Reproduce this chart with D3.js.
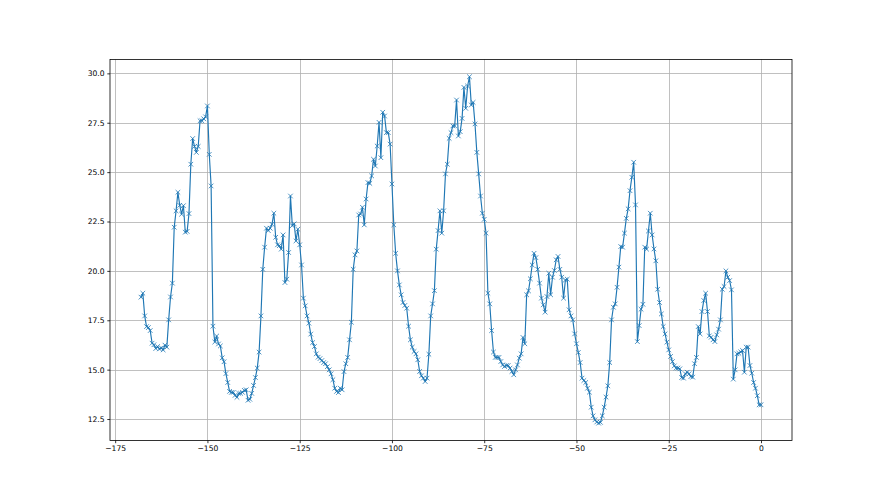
<!DOCTYPE html>
<html>
<head>
<meta charset="utf-8">
<script src="https://cdn.jsdelivr.net/npm/d3@7"></script>
<style>
  html, body { margin: 0; padding: 0; background: #ffffff; }
  svg { display: block; }
  text { font-family: "DejaVu Sans", sans-serif; }
</style>
</head>
<body>
<svg id="chart" width="880" height="495"></svg>
<script>
// ---- data (half-hour readings, last reading at hour 0) ----
const endHour = 0;
const stepHour = 0.5;
const values = [
  18.67, 18.87, 17.72, 17.18, 17.13, 16.98, 16.34, 16.26, 16.07, 16.17,
  16.05, 16.1, 16.0, 16.24, 16.14, 17.52, 18.68, 19.38, 22.21, 23.04,
  23.98, 23.32, 22.87, 23.3, 21.96, 22.0, 22.9, 25.4, 26.7, 26.3,
  26.0, 26.3, 27.6, 27.6, 27.7, 27.8, 28.35, 25.9, 24.3, 17.2,
  16.4, 16.7, 16.3, 16.2, 15.6, 15.4, 14.8, 14.35, 13.9, 13.85,
  13.85, 13.7, 13.6, 13.8, 13.8, 13.85, 13.95, 13.98, 13.45, 13.5,
  13.8, 14.2, 14.6, 15.08, 15.89, 17.72, 20.08, 21.2, 22.16, 22.04,
  22.16, 22.36, 22.92, 21.7, 21.32, 21.28, 21.1, 21.82, 19.41, 19.58,
  20.93, 23.79, 22.29, 22.38, 21.52, 22.11, 21.32, 20.3, 18.62, 18.23,
  17.72, 17.35, 16.8, 16.37, 16.17, 15.8, 15.63, 15.56, 15.46, 15.36,
  15.3, 15.15, 14.99, 14.79, 14.49, 14.06, 13.9, 13.84, 14.06, 13.98,
  14.9, 15.3, 15.62, 16.51, 17.4, 20.08, 20.81, 21.01, 22.83, 22.88,
  23.22, 22.33, 23.64, 24.47, 24.43, 24.81, 25.65, 25.31, 26.32, 27.52,
  25.73, 28.03, 27.84, 27.0, 27.0, 26.42, 24.4, 22.33, 20.89, 20.0,
  19.29, 18.79, 18.4, 18.25, 18.11, 17.2, 16.51, 16.14, 15.92, 15.8,
  15.5, 14.91, 14.69, 14.57, 14.4, 14.57, 15.78, 17.72, 18.33, 19.0,
  21.1, 22.04, 23.04, 21.91, 23.04, 24.91, 25.4, 26.71, 27.0, 27.34,
  27.34, 28.65, 26.83, 27.05, 27.72, 29.29, 28.23, 29.36, 29.83, 28.4,
  28.53, 27.44, 26.0, 24.91, 23.79, 22.92, 22.61, 21.91, 18.87, 18.33,
  16.98, 15.89, 15.62, 15.62, 15.62, 15.41, 15.24, 15.16, 15.21, 15.21,
  15.08, 14.91, 14.74, 14.99, 15.24, 15.58, 15.8, 16.63, 16.31, 18.79,
  18.99, 19.6, 20.3, 20.89, 20.67, 20.08, 19.38, 18.62, 18.28, 17.91,
  18.7, 19.88, 18.79, 19.68, 20.02, 20.56, 20.73, 20.08, 19.68, 18.62,
  19.54, 19.58, 18.03, 17.72, 17.52, 16.81, 16.31, 15.87, 15.36, 14.57,
  14.45, 14.35, 14.06, 13.86, 13.1, 12.66, 12.46, 12.35, 12.29, 12.33,
  12.66, 13.1, 13.61, 14.18, 15.36, 17.52, 18.16, 18.33, 19.17, 20.19,
  21.23, 21.2, 21.91, 22.66, 23.14, 24.06, 24.74, 25.5, 23.34, 16.42,
  17.23, 18.06, 18.31, 21.2, 21.1, 22.02, 22.92, 21.82, 21.11, 20.51,
  19.07, 18.4, 17.82, 17.18, 16.81, 16.39, 16.0, 15.67, 15.41, 15.19,
  15.08, 15.08, 15.04, 14.6, 14.57, 14.79, 14.87, 14.79, 14.65, 14.62,
  15.3, 15.62, 17.18, 16.81, 17.94, 18.5, 18.87, 17.94, 16.71, 16.64,
  16.51, 16.42, 16.76, 17.05, 17.52, 19.07, 19.21, 20.0, 19.68, 19.51,
  19.04, 14.52, 14.99, 15.8, 15.83, 15.9, 15.97, 14.87, 16.14, 16.14,
  15.21, 14.82, 14.35, 14.06, 13.68, 13.22, 13.22
];
const xTicks = [-175, -150, -125, -100, -75, -50, -25, 0];
const yTicks = [12.5, 15.0, 17.5, 20.0, 22.5, 25.0, 27.5, 30.0];

(function () {
  const plotL = 110, plotR = 792, plotT = 59.4, plotB = 440.5;
  const color = "#1f77b4";

  const n = values.length;
  const points = values.map((v, i) => ({ x: endHour - (n - 1 - i) * stepHour, y: v }));

  const xExt = d3.extent(points, d => d.x);
  const yExt = d3.extent(points, d => d.y);
  const xPad = (xExt[1] - xExt[0]) * 0.05;
  const yPad = (yExt[1] - yExt[0]) * 0.05;

  const x = d3.scaleLinear().domain([xExt[0] - xPad, xExt[1] + xPad]).range([plotL, plotR]);
  const y = d3.scaleLinear().domain([yExt[0] - yPad, yExt[1] + yPad]).range([plotB, plotT]);

  const svg = d3.select("#chart");

  const grid = svg.append("g");
  grid.selectAll("line.gx").data(xTicks).enter().append("line")
    .attr("x1", d => Math.round(x(d)) + 0.5).attr("x2", d => Math.round(x(d)) + 0.5)
    .attr("y1", plotT).attr("y2", plotB)
    .attr("stroke", "#b0b0b0").attr("stroke-width", 0.8);
  grid.selectAll("line.gy").data(yTicks).enter().append("line")
    .attr("y1", d => Math.round(y(d)) + 0.5).attr("y2", d => Math.round(y(d)) + 0.5)
    .attr("x1", plotL).attr("x2", plotR)
    .attr("stroke", "#b0b0b0").attr("stroke-width", 0.8);

  const line = d3.line().x(d => x(d.x)).y(d => y(d.y));
  svg.append("path").datum(points)
    .attr("d", line)
    .attr("fill", "none")
    .attr("stroke", color)
    .attr("stroke-width", 1.15)
    .attr("stroke-linejoin", "round")
    .attr("stroke-linecap", "square");

  const s = 2.3;
  svg.append("g").selectAll("path").data(points).enter().append("path")
    .attr("transform", d => `translate(${x(d.x)},${y(d.y)})`)
    .attr("d", `M${-s},${-s}L${s},${s}M${-s},${s}L${s},${-s}`)
    .attr("fill", "none")
    .attr("stroke", color)
    .attr("stroke-width", 0.8);

  svg.append("rect")
    .attr("x", plotL).attr("y", plotT)
    .attr("width", plotR - plotL).attr("height", plotB - plotT)
    .attr("fill", "none").attr("stroke", "#000").attr("stroke-width", 0.8);

  const fmtX = d3.format("d");
  const fmtY = d3.format(".1f");
  const xAxis = svg.append("g").attr("transform", `translate(0,${plotB})`)
    .call(d3.axisBottom(x).tickValues(xTicks).tickFormat(fmtX).tickSize(2.7).tickPadding(2.7));
  const yAxis = svg.append("g").attr("transform", `translate(${plotL},0)`)
    .call(d3.axisLeft(y).tickValues(yTicks).tickFormat(fmtY).tickSize(2.7).tickPadding(2.7));
  [xAxis, yAxis].forEach(g => {
    g.select(".domain").remove();
    g.selectAll(".tick line").attr("stroke", "#000").attr("stroke-width", 0.8);
    g.selectAll(".tick text").attr("fill", "#000")
      .style("font-family", "'DejaVu Sans', sans-serif").style("font-size", "7.6px");
  });
})();
</script>
</body>
</html>
